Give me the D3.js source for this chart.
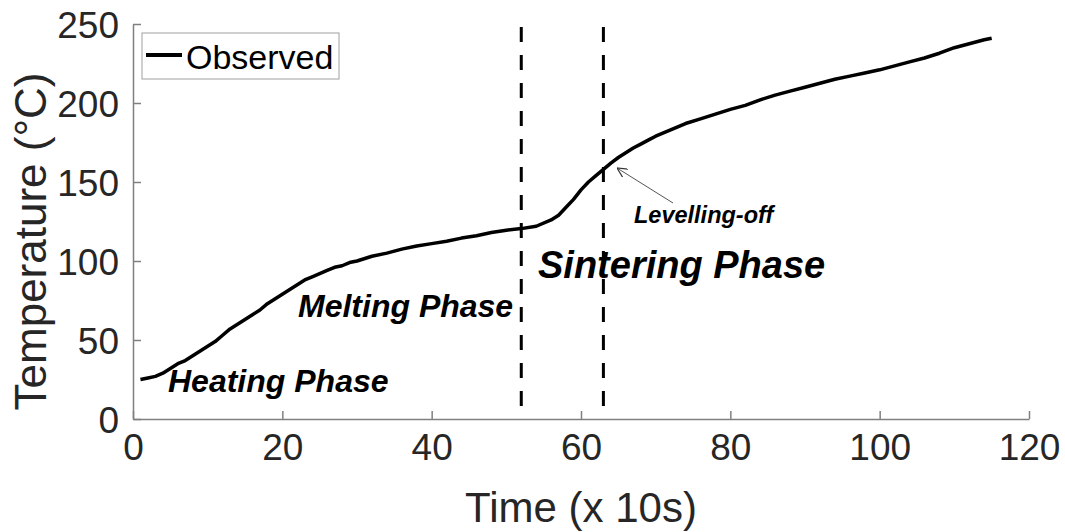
<!DOCTYPE html>
<html>
<head>
<meta charset="utf-8">
<script src="https://cdn.jsdelivr.net/npm/d3@7"></script>
<style>
    body { margin: 0; background: #fff; }
    svg { font-family: Arial, "Liberation Sans", Helvetica, sans-serif; }
</style>
</head>
<body>
<div id="chart"></div>
<script>
// Observed temperature readings (time in units of 10s)
const times = [1, 2, 3, 4, 5, 6, 7, 8, 9, 10, 11, 12, 13, 14, 15, 16, 17, 18, 19, 20,
    21, 22, 23, 24, 25, 26, 27, 28, 29, 30, 32, 34, 36, 38, 40, 42, 44, 46, 48, 50,
    52, 54, 56, 57, 58, 59, 60, 61, 62, 63, 64, 65, 66, 67, 68, 69, 70, 72, 74, 76,
    78, 80, 82, 84, 86, 88, 90, 92, 94, 96, 98, 100, 102, 104, 106, 108, 110, 112, 114, 115];
const temps = [25, 26, 27, 29, 32, 35, 37, 40, 43, 46, 49, 53, 57, 60, 63, 66, 69, 73, 76, 79,
    82, 85, 88, 90, 92, 94, 96, 97, 99, 100, 103, 105, 107.5, 109.5, 111, 112.5, 114.5, 116, 118, 119.5,
    120.5, 122, 126, 129, 134, 139, 145, 150, 154, 158, 162, 165.5, 168.5, 171.5, 174, 176.5, 179, 183, 187, 190,
    193, 196, 198.5, 202, 205, 207.5, 210, 212.5, 215, 217, 219, 221, 223.5, 226, 228.5, 231.5, 235, 237.5, 240, 241];

// Phase boundaries
const phaseLines = [52, 63];

// Tick values
const xTicks = [0, 20, 40, 60, 80, 100, 120];
const yTicks = [0, 50, 100, 150, 200, 250];

const width = 1065;
const height = 532;
const margin = { left: 133, right: 36, top: 24, bottom: 113 };

const svg = d3.select("#chart")
    .append("svg")
    .attr("width", width)
    .attr("height", height);

const x = d3.scaleLinear().domain([0, 120]).range([margin.left, width - margin.right]);
const y = d3.scaleLinear().domain([0, 250]).range([height - margin.bottom, margin.top]);

const axisColor = "#808080";
const textColor = "#262626";

// X axis (ticks pointing inward)
const xAxis = svg.append("g")
    .attr("transform", `translate(0,${y(0)})`)
    .call(d3.axisBottom(x).tickValues(xTicks).tickSize(-8).tickSizeOuter(0).tickPadding(14));

// Y axis
const yAxis = svg.append("g")
    .attr("transform", `translate(${x(0)},0)`)
    .call(d3.axisLeft(y).tickValues(yTicks).tickSize(-8).tickSizeOuter(0).tickPadding(14));

[xAxis, yAxis].forEach(ax => {
    ax.select(".domain").attr("stroke", axisColor).attr("stroke-width", 1.5);
    ax.selectAll(".tick line").attr("stroke", axisColor).attr("stroke-width", 1.5);
    ax.selectAll(".tick text")
        .attr("fill", textColor)
        .attr("font-size", 37)
        .attr("font-family", "Arial, 'Liberation Sans', sans-serif");
});
xAxis.selectAll(".tick text").attr("dy", "0.73em");
yAxis.selectAll(".tick text").attr("dy", "0.36em");

// Axis labels
svg.append("text")
    .attr("x", (x(0) + x(120)) / 2)
    .attr("y", 522)
    .attr("text-anchor", "middle")
    .attr("font-size", 42)
    .attr("fill", textColor)
    .text("Time (x 10s)");

svg.append("text")
    .attr("transform", `translate(46,${(y(0) + y(250)) / 2 + 20}) rotate(-90)`)
    .attr("text-anchor", "middle")
    .attr("font-size", 44)
    .attr("fill", textColor)
    .text("Temperature (°C)");

// Dashed phase boundaries
svg.selectAll(".phase")
    .data(phaseLines)
    .enter()
    .append("line")
    .attr("x1", d => x(d))
    .attr("x2", d => x(d))
    .attr("y1", 27)
    .attr("y2", y(0))
    .attr("stroke", "#000")
    .attr("stroke-width", 3)
    .attr("stroke-dasharray", "15,13");

// Observed curve
const data = times.map((t, i) => ({ t: t, v: temps[i] }));
const line = d3.line().x(d => x(d.t)).y(d => y(d.v));

svg.append("path")
    .datum(data)
    .attr("d", line)
    .attr("fill", "none")
    .attr("stroke", "#000")
    .attr("stroke-width", 3.5)
    .attr("stroke-linejoin", "round");

// Phase annotations
const notes = [
    { text: "Heating Phase", x: 168, y: 392, size: 32 },
    { text: "Melting Phase", x: 298, y: 317, size: 32 },
    { text: "Sintering Phase", x: 538, y: 278, size: 38 },
    { text: "Levelling-off", x: 634, y: 223, size: 23.5 }
];

svg.selectAll(".note")
    .data(notes)
    .enter()
    .append("text")
    .attr("x", d => d.x)
    .attr("y", d => d.y)
    .attr("font-size", d => d.size)
    .attr("font-weight", "bold")
    .attr("font-style", "italic")
    .attr("fill", "#000")
    .text(d => d.text);

// Arrow pointing at the levelling-off point
svg.append("defs").append("marker")
    .attr("id", "head")
    .attr("viewBox", "0 0 10 10")
    .attr("refX", 10)
    .attr("refY", 5)
    .attr("markerWidth", 10)
    .attr("markerHeight", 10)
    .attr("markerUnits", "userSpaceOnUse")
    .attr("orient", "auto")
    .append("path")
    .attr("d", "M0,0 L10,5 L0,10")
    .attr("fill", "none")
    .attr("stroke", "#333")
    .attr("stroke-width", 1.2);

svg.append("line")
    .attr("x1", 673)
    .attr("y1", 203)
    .attr("x2", 617)
    .attr("y2", 168)
    .attr("stroke", "#555")
    .attr("stroke-width", 1)
    .attr("marker-end", "url(#head)");

// Legend
const legend = svg.append("g");
legend.append("rect")
    .attr("x", 142)
    .attr("y", 33)
    .attr("width", 197)
    .attr("height", 46)
    .attr("fill", "#fff")
    .attr("stroke", "#a0a0a0")
    .attr("stroke-width", 1);
legend.append("line")
    .attr("x1", 146)
    .attr("x2", 182)
    .attr("y1", 55)
    .attr("y2", 55)
    .attr("stroke", "#000")
    .attr("stroke-width", 4);
legend.append("text")
    .attr("x", 186)
    .attr("y", 69)
    .attr("font-size", 34)
    .attr("fill", "#000")
    .text("Observed");
</script>
</body>
</html>
